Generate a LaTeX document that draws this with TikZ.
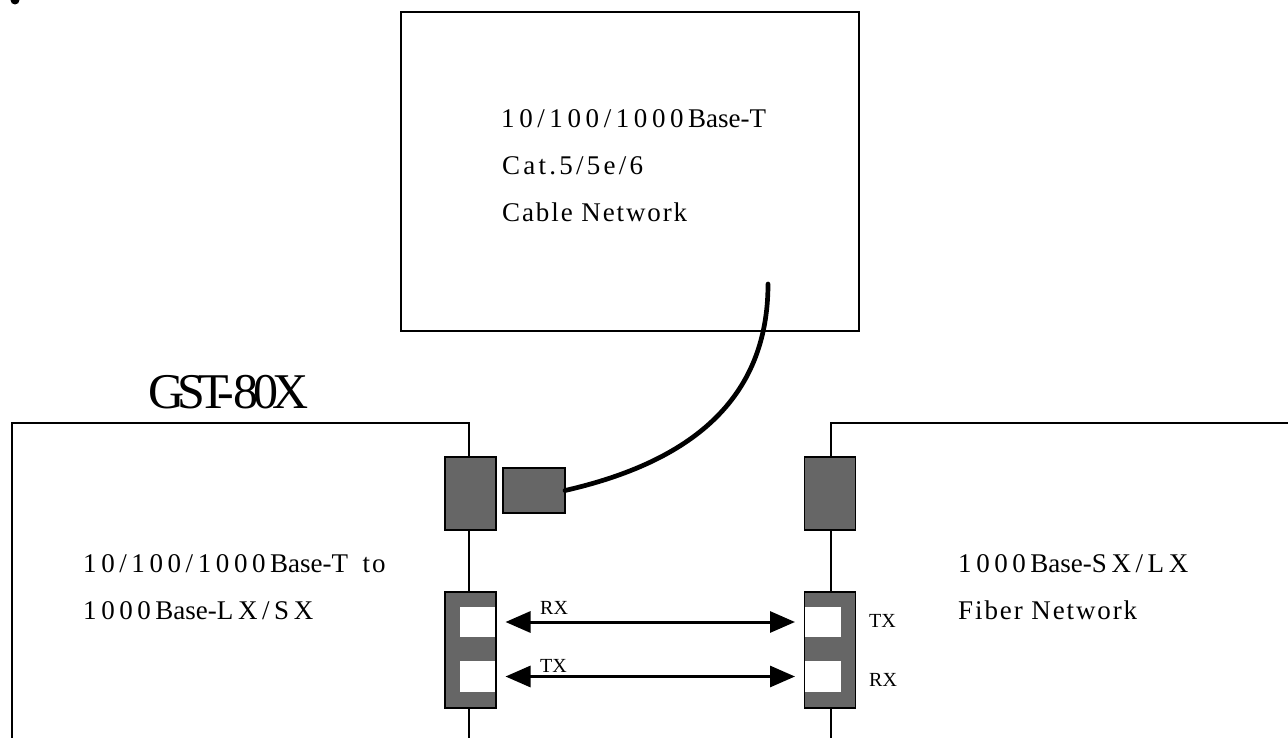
\documentclass[tikz,border=0pt]{standalone}
\usepackage{fontspec}
\setmainfont{Liberation Serif}
\usetikzlibrary{arrows.meta}
\newfontfamily\wideface[LetterSpace=17]{Liberation Serif}
\newfontfamily\midface[LetterSpace=12]{Liberation Serif}
\newfontfamily\spacedface[LetterSpace=7]{Liberation Serif}
\newfontfamily\tightface[LetterSpace=-14]{Liberation Serif}
\newfontfamily\titleface[LetterSpace=-11]{Liberation Serif}
\newcommand{\widerun}[1]{{\wideface #1}\kern4.5pt}
\definecolor{portgray}{HTML}{666666}
\tikzset{
 x=1pt,y=-1pt,
 boxline/.style={line width=1.2pt,black},
 portbox/.style={draw=black,line width=1.2pt,fill=portgray,inner sep=0pt,outer sep=0pt},
 window/.style={fill=white,inner sep=0pt,outer sep=0pt},
 biglabel/.style={anchor=base west,inner sep=0pt,font=\fontsize{27}{27}\selectfont},
 smalllabel/.style={anchor=base west,inner sep=0pt,font=\fontsize{20}{20}\selectfont},
 biarrow/.style={line width=3pt,{Triangle[length=25pt,width=21pt]}-{Triangle[length=25pt,width=21pt]},shorten <=10.5pt,shorten >=10pt},
}
\begin{document}
\begin{tikzpicture}
\useasboundingbox (0,0) rectangle (1288,738);
\fill[black] (15,0) circle (4.5);
% top box
\node[draw,boxline,inner sep=0pt,outer sep=0pt,minimum width=458pt,minimum height=319pt] (net) at (630,171.5) {};
\node[biglabel] (l1) at (501,128) {\widerun{10/100/1000}Base-T};
\node[biglabel] (l2) at (502,175) {\midface Cat.5/5e/6};
\node[biglabel] (l3) at (502,222) {\spacedface Cable Network};
% device outlines
\draw[boxline] (12,738) -- (12,423) -- (469,423) -- (469,738);
\draw[boxline] (1288,423) -- (831,423) -- (831,738);
\node[anchor=base west,inner sep=0pt,font=\fontsize{50}{50}\selectfont] (title) at (148,408) {{\tightface GST-}{\titleface 80X}};
\node[biglabel] (l4) at (83,572) {\widerun{10/100/1000}Base-T\kern6pt{\spacedface\ to}};
\node[biglabel] (l5) at (83,619) {\widerun{1000}Base-{\wideface LX/SX}};
\node[biglabel] (l6) at (958,572) {\widerun{1000}Base-{\wideface SX/LX}};
\node[biglabel] (l7) at (958,619) {\spacedface Fiber Network};
% ports
\node[portbox,minimum width=51pt,minimum height=73pt] (pa) at (470.5,493.5) {};
\node[portbox,minimum width=51pt,minimum height=73pt] (pb) at (830,493.5) {};
\node[portbox,minimum width=62pt,minimum height=45pt] (plug) at (534,490.5) {};
\node[portbox,minimum width=51pt,minimum height=116pt] (fa) at (470.5,650) {};
\node[portbox,minimum width=51pt,minimum height=116pt] (fb) at (830,650) {};
\node[window,minimum width=35pt,minimum height=30pt] (wa1) at (477.5,622) {};
\node[window,minimum width=35pt,minimum height=31pt] (wa2) at (477.5,676.5) {};
\node[window,minimum width=36pt,minimum height=30pt] (wb1) at (823,622) {};
\node[window,minimum width=36pt,minimum height=31pt] (wb2) at (823,676.5) {};
% cable
\coordinate (cableend) at (768,284);
\draw[line width=4.7pt,line cap=round] (plug.east) .. controls (690,462) and (768,400) .. (cableend);
% fibre
\draw[biarrow] (wa1.east) -- (wb1.west);
\draw[biarrow] (wa2.east) -- (wb2.west);
\node[smalllabel] (rx1) at (540,614) {RX};
\node[smalllabel] (tx1) at (540,672) {TX};
\node[smalllabel] (tx2) at (869,627) {TX};
\node[smalllabel] (rx2) at (869,686) {RX};
\end{tikzpicture}
\end{document}
